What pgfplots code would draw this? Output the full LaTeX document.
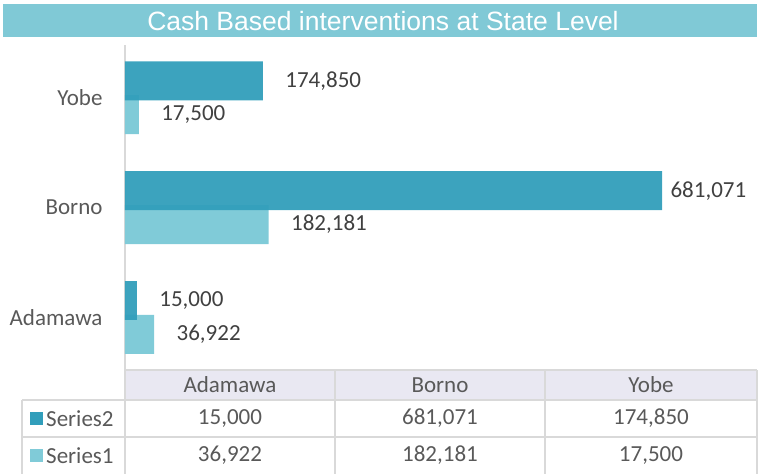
\documentclass[border=0pt]{standalone}
\usepackage{pgfplots}
\pgfplotsset{compat=1.18}
\usepackage{fontspec}
\setmainfont{Carlito}
\newfontfamily\titlefont{Liberation Sans}
\definecolor{banner}{RGB}{128,201,214}
\definecolor{darkbar}{RGB}{49,158,187}
\definecolor{lightbar}{RGB}{128,203,216}
\definecolor{hdrbg}{RGB}{233,232,242}
\definecolor{gridc}{RGB}{217,217,217}
\definecolor{txt}{RGB}{89,89,89}
\definecolor{lbl}{RGB}{64,64,64}
\newcommand{\fs}{\fontsize{23}{28}\selectfont}
\pgfplotstableread{
y x shift
0 15000 19
1 681071 5
2 174850 19
}\seriestwo
\pgfplotstableread{
y x shift
0 36922 19
1 182181 19
2 17500 19
}\seriesone
\begin{document}
\begin{tikzpicture}
\path[use as bounding box] (0pt,0pt) rectangle (761pt,-474pt);
% title banner
\fill[banner] (3pt,-4pt) rectangle (757pt,-37pt);
\node[text=white,font=\titlefont\fontsize{26.5}{30}\selectfont] at (383pt,-21pt) {Cash Based interventions at State Level};
\begin{axis}[
  at={(125pt,-370pt)}, anchor=south west,
  scale only axis, width=632pt, height=325pt,
  xmin=0, xmax=801560, ymin=-0.48, ymax=2.48,
  axis x line=none,
  axis y line*=left,
  y axis line style={draw=gridc, line width=2pt, -},
  ytick={0,1,2}, yticklabels={Adamawa,Borno,Yobe},
  major tick length=0pt,
  yticklabel style={font=\fs, text=txt, xshift=-19pt},
  xbar, bar width=0.355,
  /pgf/number format/assume math mode=true,
  point meta=x,
  nodes near coords={\pgfmathprintnumber[fixed,precision=0,1000 sep={,}]{\pgfplotspointmeta}},
  nodes near coords style={font=\fs, text=lbl, anchor=west, xshift=\myshift pt},
  visualization depends on={\thisrow{shift} \as \myshift},
  clip=false,
]
\addplot[draw=none, fill=lightbar, bar shift=-0.155] table[x=x,y=y] {\seriesone};
\addplot[draw=none, fill=darkbar, fill opacity=0.95, text opacity=1, bar shift=0.153] table[x=x,y=y] {\seriestwo};
\end{axis}
% data table
\fill[hdrbg] (125pt,-370pt) rectangle (757pt,-400pt);
\begin{scope}[draw=gridc, line width=2pt]
\draw (125pt,-370pt) -- (757pt,-370pt);
\draw (22pt,-400pt) -- (757pt,-400pt);
\draw (22pt,-437pt) -- (757pt,-437pt);
\draw (22pt,-400pt) -- (22pt,-474pt);
\draw (125pt,-370pt) -- (125pt,-474pt);
\draw (335pt,-370pt) -- (335pt,-474pt);
\draw (545pt,-370pt) -- (545pt,-474pt);
\draw (757pt,-370pt) -- (757pt,-474pt);
\end{scope}
\begin{scope}[every node/.style={font=\fs, text=txt}]
\node at (230pt,-385pt) {Adamawa};
\node at (440pt,-385pt) {Borno};
\node at (651pt,-385pt) {Yobe};
\node at (230pt,-418.5pt) {15,000};
\node at (440pt,-418.5pt) {681,071};
\node at (651pt,-418.5pt) {174,850};
\node at (230pt,-455.5pt) {36,922};
\node at (440pt,-455.5pt) {182,181};
\node at (651pt,-455.5pt) {17,500};
\node[anchor=west,inner sep=0pt] at (46pt,-418.5pt) {Series2};
\node[anchor=west,inner sep=0pt] at (46pt,-455.5pt) {Series1};
\end{scope}
\fill[darkbar] (30pt,-412pt) rectangle (43pt,-425pt);
\fill[lightbar] (30pt,-449pt) rectangle (43pt,-462pt);
\end{tikzpicture}
\end{document}
